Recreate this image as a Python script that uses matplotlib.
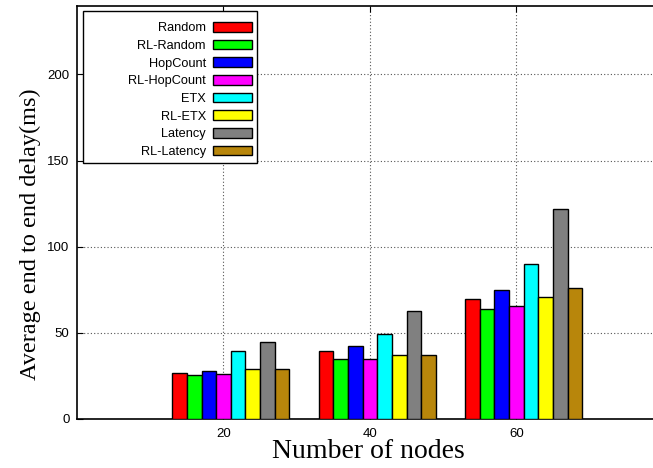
import numpy as np
import matplotlib
matplotlib.use("Agg")
import matplotlib.pyplot as plt
from matplotlib.offsetbox import DrawingArea

groups = [20, 40, 60]
series = ["Random", "RL-Random", "HopCount", "RL-HopCount",
          "ETX", "RL-ETX", "Latency", "RL-Latency"]
colors = ["#ff0000", "#00ff00", "#0000ff", "#ff00ff",
          "#00ffff", "#ffff00", "#808080", "#b8860b"]

random_ = [26.6, 39.3, 69.6]
rl_random = [25.6, 34.7, 64.0]
hopcount = [27.9, 42.4, 74.6]
rl_hopcount = [26.0, 34.7, 65.7]
etx = [39.5, 49.0, 90.1]
rl_etx = [28.9, 37.2, 70.9]
latency = [44.9, 62.6, 121.7]
rl_latency = [28.9, 37.2, 75.8]
values = [random_, rl_random, hopcount, rl_hopcount, etx, rl_etx, latency, rl_latency]

fig = plt.figure(figsize=(6.53, 4.68), dpi=100)
ax = fig.add_axes([0.118, 0.105, 0.897, 0.883])

bar_w = 2.0
x = np.array(groups, dtype=float)
for i, (name, vals) in enumerate(zip(series, values)):
    ax.bar(x - 7 + i * bar_w, vals, width=bar_w, align="edge",
           color=colors[i], edgecolor="black", linewidth=1.0,
           label=name, zorder=3)

ax.set_xlim(0, 80)
ax.set_ylim(0, 240)
ax.set_xticks(groups)
ax.set_yticks([0, 50, 100, 150, 200])
ax.tick_params(direction="in", length=4, labelsize=9.5, top=True, right=True)
ax.tick_params(axis="y", pad=5.5)
ax.tick_params(axis="x", pad=6.5)
for lab in ax.get_xticklabels() + ax.get_yticklabels():
    lab.set_family("Liberation Sans")
ax.grid(True, linestyle=(0, (1, 2)), color="#555555", linewidth=0.8, zorder=0)
for s in ax.spines.values():
    s.set_linewidth(1.2)

ax.set_xlabel("Number of nodes", family="Liberation Serif", fontsize=20)
ax.set_ylabel("Average end to end delay(ms)", family="Liberation Serif", fontsize=17.5)
ax.xaxis.set_label_coords(0.497, -0.048)
ax.yaxis.set_label_coords(-0.062, 0.447)

leg = ax.legend(loc="upper left", markerfirst=False, fancybox=False,
                framealpha=1, edgecolor="black", alignment="right",
                prop={"family": "Liberation Sans", "size": 9.2},
                handlelength=3.0, handleheight=0.8, handletextpad=0.6,
                labelspacing=0.42, borderaxespad=0.45)
leg.get_frame().set_linewidth(1.0)
leg.set_zorder(5)
# widen the legend box (gnuplot-style key with labels pushed right)
leg._legend_box.get_children()[0] = DrawingArea(118, 0)

fig.savefig("out.png", dpi=100)
